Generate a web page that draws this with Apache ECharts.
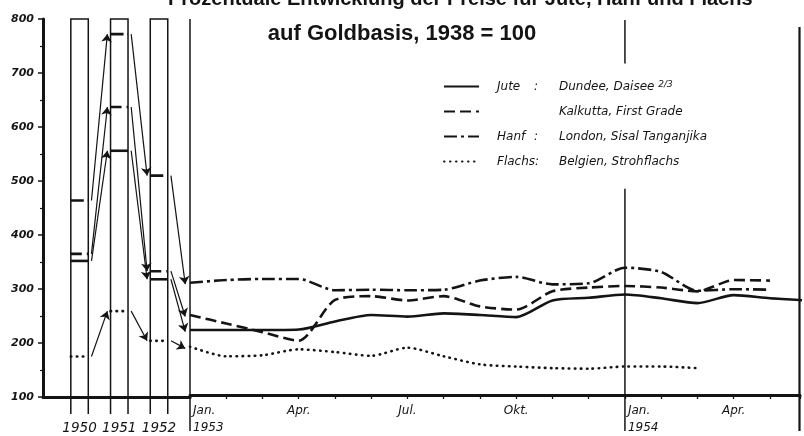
<!DOCTYPE html>
<html><head><meta charset="utf-8">
<script src="https://cdn.jsdelivr.net/npm/echarts@6/dist/echarts.min.js"></script>
<style>html,body{margin:0;padding:0;background:#fff}#c{width:804px;height:436px}</style>
</head><body><div id="c"></div>
<script>
// ---------- data ----------
const years = [1950, 1951, 1952];
const yearLabels = ['1950', '1951', '1952'];
const juteYear     = [352, 556, 318];
const kalkuttaYear = [365, 637, 333];
const hanfYear     = [464, 772, 510];
const flachsYear   = [175, 259, 204];

// monthly values, index 0 = Jan 1953
const juteMonth     = [221, 221, 221, 222, 237, 249, 246, 252, 249, 245, 276, 281, 287, 280, 271, 286, 280, 276];
const kalkuttaMonth = [249, 233, 217, 201, 277, 284, 276, 284, 265, 259, 293, 300, 303, 300, 293, 314, 313];
const hanfMonth     = [309, 314, 316, 316, 295, 296, 295, 296, 313, 320, 306, 308, 337, 329, 294, 297, 296];
const flachsMonth   = [190, 172, 174, 185, 180, 173, 188, 172, 157, 153, 150, 149, 153, 153, 150];

const monthLabelPos = [3, 6, 9, 15];
const monthLabelTxt = ['Apr.', 'Jul.', 'Okt.', 'Apr.'];
const janLabelPos = [0, 12];
const janLabelTxt = ['Jan.\n1953', 'Jan.\n1954'];

const seriesNames = ['Jute', 'Kalkutta', 'Hanf', 'Flachs'];
const legendTexts = [
  '{a|Jute}{b|:}{c|Dundee, Daisee }{s|2/3}',
  '{a|}{b|}{c|Kalkutta, First Grade}',
  '{a|Hanf}{b|:}{c|London, Sisal Tanganjika}',
  '{a|Flachs:}{b|}{c|Belgien, Strohflachs}'
];

// ---------- layout / style ----------
const INK = '#141414';
const Y_MIN = 100, Y_MAX = 800;
const YR_MIN = 1949.08, YR_MAX = 1952.78;
const M_MAX = 16.83;
const BOX_HALF = 0.22;
const dashes = {
  Jute: null,
  Kalkutta: [11, 5],
  Hanf: [13, 4, 3, 4],
  Flachs: [0.5, 5.5]
};
const yearData = {Jute: juteYear, Kalkutta: kalkuttaYear, Hanf: hanfYear, Flachs: flachsYear};
const monthData = {Jute: juteMonth, Kalkutta: kalkuttaMonth, Hanf: hanfMonth, Flachs: flachsMonth};

const chart = echarts.init(document.getElementById('c'), null, {renderer: 'canvas'});

const series = [];

// year boxes
series.push({
  type: 'custom', xAxisIndex: 0, yAxisIndex: 0, clip: false, silent: true, z: 1,
  data: years.map(y => [y]),
  renderItem(params, api) {
    const y = api.value(0);
    const lt = api.coord([y - BOX_HALF, Y_MAX]);
    const rt = api.coord([y + BOX_HALF, Y_MAX]);
    const bot = api.coord([y, Y_MIN])[1] + 17;
    return {type: 'polyline', shape: {points: [[lt[0], bot], lt, rt, [rt[0], bot]]},
      style: {stroke: INK, lineWidth: 1.5, fill: null}};
  }
});

// vertical rules in monthly part
series.push({
  type: 'custom', xAxisIndex: 1, yAxisIndex: 1, clip: false, silent: true, z: 1,
  data: [[0]],
  renderItem(params, api) {
    const bot = api.coord([0, Y_MIN])[1] + 36;
    const a = api.coord([0, Y_MAX]);
    const j1 = api.coord([12, Y_MAX]);
    const j2 = api.coord([12, 717]);
    const j3 = api.coord([12, 484]);
    const r1 = api.coord([M_MAX, 785]);
    const st = {stroke: INK, lineWidth: 1.5};
    return {type: 'group', children: [
      {type: 'line', shape: {x1: a[0], y1: a[1], x2: a[0], y2: bot}, style: st},
      {type: 'line', shape: {x1: j1[0], y1: j1[1] + 1, x2: j1[0], y2: j2[1]}, style: st},
      {type: 'line', shape: {x1: j3[0], y1: j3[1], x2: j3[0], y2: bot}, style: st},
      {type: 'line', shape: {x1: r1[0] - 0.5, y1: r1[1], x2: r1[0] - 0.5, y2: bot}, style: {stroke: INK, lineWidth: 2.2}}
    ]};
  }
});

seriesNames.forEach(name => {
  const dash = dashes[name];
  const isDot = name === 'Flachs';
  const w = 2.6;
  // annual levels
  series.push({
    type: 'custom', name: name + ' (Jahr)', xAxisIndex: 0, yAxisIndex: 0, silent: true, z: 3,
    data: years.map((y, i) => [y, yearData[name][i]]),
    renderItem(params, api) {
      const yr = api.value(0), v = api.value(1);
      const a = api.coord([yr - BOX_HALF, v]), b = api.coord([yr + BOX_HALF, v]);
      return {type: 'line', shape: {x1: a[0], y1: a[1], x2: b[0], y2: b[1]},
        style: {stroke: INK, lineWidth: w, lineDash: dash || null, lineCap: isDot ? 'round' : 'butt'}};
    }
  });
  // arrows between years and to Jan 1953
  const yv = yearData[name];
  const arrows = [];
  for (let i = 0; i < years.length - 1; i++) {
    arrows.push({coords: [[years[i] + BOX_HALF + 0.08, yv[i]], [years[i + 1] - BOX_HALF - 0.08, yv[i + 1]]]});
  }
  arrows.push({coords: [[years[2] + BOX_HALF + 0.08, yv[2]], [YR_MAX - 0.12, monthData[name][0]]]});
  series.push({
    type: 'lines', name: name + ' (Pfeil)', coordinateSystem: 'cartesian2d', xAxisIndex: 0, yAxisIndex: 0,
    silent: true, z: 3,
    symbol: ['none', 'arrow'], symbolSize: 8,
    lineStyle: {color: INK, width: 1.2, opacity: 1},
    data: arrows
  });
  // monthly line
  series.push({
    type: 'line', name: name, xAxisIndex: 1, yAxisIndex: 1, z: 4,
    symbol: 'none', smooth: 0.25, clip: true,
    lineStyle: {color: INK, width: w, type: dash ? dash : 'solid', cap: isDot ? 'round' : 'butt'},
    itemStyle: {color: INK},
    data: monthData[name].map((v, i) => [i, v])
  });
});

const option = {
  animation: false,
  backgroundColor: '#fff',
  title: [
    {text: 'Prozentuale Entwicklung der Preise für Jute, Hanf und Flachs', left: 163, top: -16,
      textStyle: {fontFamily: 'Liberation Sans', fontWeight: 'bold', fontSize: 20, color: INK}},
    {text: 'auf Goldbasis, 1938 = 100', left: 'center', top: 18,
      textStyle: {fontFamily: 'Liberation Sans', fontWeight: 'bold', fontSize: 22, color: INK}}
  ],
  legend: {
    orient: 'vertical', left: 443, top: 80, padding: 0,
    itemWidth: 35, itemHeight: 14, itemGap: 13,
    data: seriesNames,
    itemStyle: {color: 'rgba(0,0,0,0)', borderWidth: 0, opacity: 0},
    formatter: n => legendTexts[seriesNames.indexOf(n)],
    textStyle: {
      fontFamily: 'DejaVu Sans', fontStyle: 'italic', fontSize: 12, color: INK,
      rich: {
        a: {width: 37, padding: [0, 0, 0, 13], fontFamily: 'DejaVu Sans', fontStyle: 'italic', fontSize: 12, color: INK},
        b: {width: 25, fontFamily: 'DejaVu Sans', fontStyle: 'italic', fontSize: 12, color: INK},
        c: {fontFamily: 'DejaVu Sans', fontStyle: 'italic', fontSize: 12, color: INK},
        s: {fontFamily: 'DejaVu Sans', fontStyle: 'italic', fontSize: 9, color: INK, verticalAlign: 'top', padding: [0, 0, 4, 0]}
      }
    },
    selectedMode: false
  },
  grid: [
    {left: 43, top: 19, width: 147, height: 378},
    {left: 190, top: 19, width: 610, height: 378}
  ],
  xAxis: [
    {type: 'value', gridIndex: 0, min: YR_MIN, max: YR_MAX,
      axisLine: {lineStyle: {color: INK, width: 3}},
      axisTick: {show: false}, splitLine: {show: false},
      axisLabel: {customValues: years, formatter: v => yearLabels[years.indexOf(v)] || '', margin: 24,
        fontFamily: 'DejaVu Sans', fontStyle: 'italic', fontSize: 13.5, color: INK}},
    {type: 'value', gridIndex: 1, min: 0, max: M_MAX, interval: 1, position: 'bottom',
      axisLine: {lineStyle: {color: INK, width: 3}},
      axisTick: {length: 4, lineStyle: {color: INK, width: 1.3}}, splitLine: {show: false},
      axisLabel: {customValues: monthLabelPos, formatter: v => monthLabelTxt[monthLabelPos.indexOf(v)] || '',
        margin: 7, lineHeight: 17,
        fontFamily: 'DejaVu Sans', fontStyle: 'italic', fontSize: 12, color: INK}},
    {type: 'value', gridIndex: 1, min: 0, max: M_MAX, position: 'bottom',
      axisLine: {show: false}, axisTick: {show: false}, splitLine: {show: false},
      axisLabel: {customValues: janLabelPos, formatter: v => janLabelTxt[janLabelPos.indexOf(v)] || '',
        align: 'left', padding: [0, 0, 0, 3], margin: 7, lineHeight: 17,
        fontFamily: 'DejaVu Sans', fontStyle: 'italic', fontSize: 12, color: INK}}
  ],
  yAxis: [
    {type: 'value', gridIndex: 0, min: Y_MIN, max: Y_MAX, interval: 100,
      axisLine: {show: true, lineStyle: {color: INK, width: 3}},
      axisTick: {show: true, length: 5, lineStyle: {color: INK, width: 1.5}},
      minorTick: {show: true, splitNumber: 2, length: 3, lineStyle: {color: INK, width: 1.2}},
      splitLine: {show: false},
      axisLabel: {margin: 9, fontFamily: 'DejaVu Sans', fontStyle: 'italic', fontWeight: 'bold', fontSize: 11, color: INK}},
    {type: 'value', gridIndex: 1, min: Y_MIN, max: Y_MAX, show: false, splitLine: {show: false}}
  ],
  series: series
};
chart.setOption(option);
</script></body></html>
